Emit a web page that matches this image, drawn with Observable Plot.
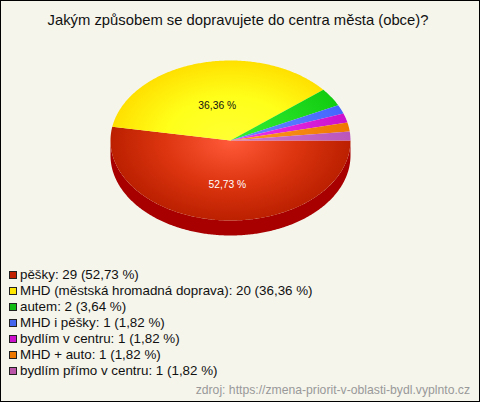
<!DOCTYPE html>
<html lang="cs">
<head>
<meta charset="utf-8">
<script src="https://cdn.jsdelivr.net/npm/d3@7"></script>
<script src="https://cdn.jsdelivr.net/npm/@observablehq/plot@0.6"></script>
<style>
html,body{margin:0;padding:0;background:#f5f5ec;}
#page{position:relative;width:480px;height:402px;box-sizing:border-box;overflow:hidden;background:#f5f5ec;box-shadow:inset 0 0 0 1px #000;font-family:"Liberation Sans",Arial,sans-serif;color:#111;}
#title{position:absolute;left:0;width:476px;top:11px;text-align:center;font-size:14.8px;line-height:18px;}
#chart{position:absolute;left:0;top:45px;}
#legend{position:absolute;left:9px;top:267px;font-size:13.37px;line-height:16px;}
#legend div{display:flex;align-items:center;height:16px;white-space:pre;}
#legend i{display:inline-block;box-sizing:border-box;width:8px;height:8px;border:1px solid #222;margin-right:3px;}
#source{position:absolute;right:10px;top:383px;font-size:12.2px;line-height:15px;color:#999;}
</style>
</head>
<body>
<div id="page">
  <div id="title"></div>
  <div id="chart"></div>
  <div id="legend"></div>
  <div id="source"></div>
</div>
<script>
const titleText = "Jakým způsobem se dopravujete do centra města (obce)?";
const sourceText = "zdroj: https://zmena-priorit-v-oblasti-bydl.vyplnto.cz";
const categories = ["pěšky", "MHD (městská hromadná doprava)", "autem", "MHD i pěšky", "bydlím v centru", "MHD + auto", "bydlím přímo v centru"];
const counts = [29, 20, 2, 1, 1, 1, 1];
const percentLabels = ["52,73 %", "36,36 %", "3,64 %", "1,82 %", "1,82 %", "1,82 %", "1,82 %"];
const swatchColors = ["#c01f00", "#ffe600", "#11bb11", "#4466ee", "#cc11cc", "#ee7700", "#bb55aa"];
const innerColors = ["#ff5a3a", "#ffff33", "#33ee33", "#6688ff", "#ee33ee", "#ff9922", "#cc77cc"];
const middleColors = ["#dd3510", "#ffff1a", "#22dd22", "#5577ff", "#dd22dd", "#f58811", "#c466c4"];
const outerColors = ["#bb2000", "#ffe000", "#11cc11", "#4466ff", "#cc11cc", "#ee7700", "#bb55bb"];
const labelled = [true, true, false, false, false, false, false];
const labelColors = ["#ffffff", "#111111"];
const sideColor = "#a80000";
const depth = 15 / 80;

document.getElementById("title").textContent = titleText;
document.getElementById("source").textContent = sourceText;
document.getElementById("legend").append(...categories.map((c, i) => {
  const row = document.createElement("div");
  const sw = document.createElement("i");
  sw.style.background = swatchColors[i];
  row.append(sw, `${c}: ${counts[i]} (${percentLabels[i]})`);
  return row;
}));

const total = d3.sum(counts);
const pieAngles = [];
let acc = 0;
for (const v of counts) { pieAngles.push([acc, acc + v]); acc += v; }
const toAngle = (v) => v / total * 2 * Math.PI;

function arcPoints(a0, a1) {
  const n = Math.max(2, Math.ceil((a1 - a0) * 90));
  return d3.range(n + 1).map((k) => {
    const a = a0 + (a1 - a0) * k / n;
    return {x: Math.cos(a), y: Math.sin(a)};
  });
}
const slices = pieAngles.map(([s, e]) => [{x: 0, y: 0}, ...arcPoints(toAngle(s), toAngle(e)), {x: 0, y: 0}]);
const lower = arcPoints(0, Math.PI);
const side = [...lower, ...lower.slice().reverse().map((p) => ({x: p.x, y: p.y + depth}))];
const labels = categories.map((c, i) => {
  const m = toAngle((pieAngles[i][0] + pieAngles[i][1]) / 2);
  return {x: 0.5 * Math.cos(m), y: 0.5 * Math.sin(m), text: percentLabels[i], i};
}).filter((d) => labelled[d.i]);

const gradientDefs = (index, {x, y}) => {
  const ns = "http://www.w3.org/2000/svg";
  const defs = document.createElementNS(ns, "defs");
  const cx = x(0), cy = y(0), rx = x(1) - x(0), ry = y(1) - y(0);
  categories.forEach((c, i) => {
    const g = document.createElementNS(ns, "radialGradient");
    g.setAttribute("id", "slice" + i);
    g.setAttribute("gradientUnits", "userSpaceOnUse");
    g.setAttribute("cx", 0); g.setAttribute("cy", 0); g.setAttribute("r", 1);
    g.setAttribute("gradientTransform", `translate(${cx} ${cy}) scale(${rx} ${ry})`);
    [[0, innerColors[i]], [0.55, middleColors[i]], [1, outerColors[i]]].forEach(([o, col]) => {
      const st = document.createElementNS(ns, "stop");
      st.setAttribute("offset", o); st.setAttribute("stop-color", col);
      g.append(st);
    });
    defs.append(g);
  });
  return defs;
};

const plot = Plot.plot({
  width: 480, height: 200,
  margin: 0,
  style: {background: "transparent", overflow: "visible"},
  x: {domain: [-1, 1], range: [110, 350], axis: null},
  y: {domain: [-1, 1], range: [15, 175], axis: null},
  marks: [
    gradientDefs,
    Plot.line(side, {x: "x", y: "y", fill: sideColor, stroke: "none"}),
    ...slices.map((pts, i) => Plot.line(pts, {x: "x", y: "y", fill: `url(#slice${i})`, stroke: "none"})),
    Plot.text(labels, {x: "x", y: "y", text: "text", fill: (d) => labelColors[d.i], dx: 2, dy: 4, fontSize: 10.3, fontFamily: "Liberation Sans, Arial, sans-serif"})
  ]
});
document.getElementById("chart").append(plot);
</script>
</body>
</html>
